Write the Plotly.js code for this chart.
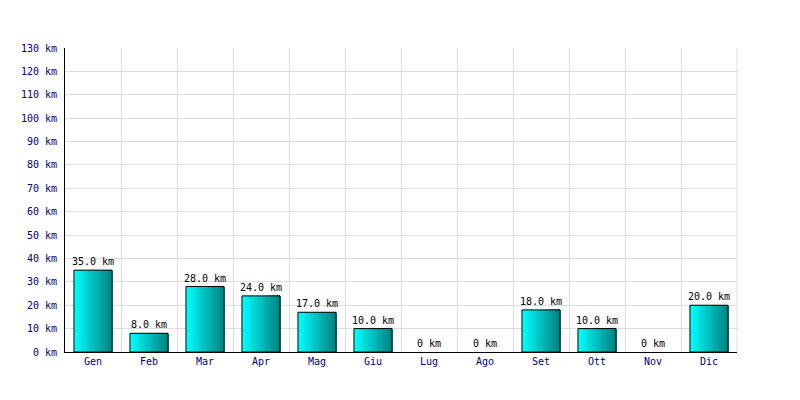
<!DOCTYPE html>
<html>
<head>
<meta charset="utf-8">
<script src="https://cdn.plot.ly/plotly-3.0.1.min.js"></script>
<style>html,body{margin:0;padding:0;background:#fff;}#chart{width:800px;height:400px;}</style>
</head>
<body>
<div id="chart"></div>
<script>
var months = ['Gen','Feb','Mar','Apr','Mag','Giu','Lug','Ago','Set','Ott','Nov','Dic'];
var kmValues = [35, 8, 28, 24, 17, 10, 0, 0, 18, 10, 0, 20];
var yTickVals = [0,10,20,30,40,50,60,70,80,90,100,110,120,130];

var barWidth = 0.68;
var N = 40;
var c0 = [0, 255, 255], c1 = [0, 128, 128];
var traces = [];
for (var k = 0; k < N; k++) {
  var t = k / (N - 1);
  var col = 'rgb(' + c0.map(function (a, i) { return Math.round(a + (c1[i] - a) * t); }).join(',') + ')';
  traces.push({
    type: 'bar', x: months, y: kmValues,
    width: barWidth * (1 - k / N),
    offset: -barWidth / 2 + k * barWidth / N,
    marker: {color: col, line: {width: 0}},
    hoverinfo: 'skip', showlegend: false
  });
}
var labelFont = {family: 'DejaVu Sans Mono, monospace', size: 10, color: '#000'};
traces.push({
  type: 'bar', x: months, y: kmValues,
  width: barWidth, offset: -barWidth / 2,
  marker: {color: 'rgba(0,0,0,0)', line: {color: '#000', width: kmValues.map(function (v) { return v === 0 ? 0 : 1; })}},
  text: kmValues.map(function (v) { return v === 0 ? '0 km' : v.toFixed(1) + ' km'; }),
  textposition: 'outside', cliponaxis: false, constraintext: 'none',
  textfont: labelFont, outsidetextfont: labelFont, insidetextfont: labelFont,
  hoverinfo: 'skip', showlegend: false
});

var tickFont = {family: 'DejaVu Sans Mono, monospace', size: 10, color: '#000080'};
var layout = {
  width: 800, height: 400,
  margin: {l: 65, r: 63, t: 48, b: 48},
  paper_bgcolor: '#fff', plot_bgcolor: '#fff',
  barmode: 'overlay', showlegend: false, hovermode: false,
  font: tickFont,
  xaxis: {
    type: 'category', tickson: 'boundaries',
    showgrid: true, gridcolor: '#dddddd', gridwidth: 1,
    showline: true, linecolor: '#000', linewidth: 1,
    ticks: '', ticklen: 0, tickfont: tickFont,
    range: [-0.5, 11.5], fixedrange: true, zeroline: false
  },
  yaxis: {
    range: [0, 130], tickmode: 'array', tickvals: yTickVals,
    ticktext: yTickVals.map(function (v) { return v + ' km'; }),
    showgrid: true, gridcolor: '#dddddd', gridwidth: 1,
    showline: true, linecolor: '#000', linewidth: 1,
    zeroline: false, ticks: '', ticklabelstandoff: 5, tickfont: tickFont,
    fixedrange: true
  },
  shapes: [{type: 'line', xref: 'paper', yref: 'paper', x0: 1, x1: 1, y0: 0, y1: 1, line: {color: '#dddddd', width: 1}, layer: 'below'}]
};
Plotly.newPlot('chart', traces, layout, {displayModeBar: false, staticPlot: true});
</script>
</body>
</html>
